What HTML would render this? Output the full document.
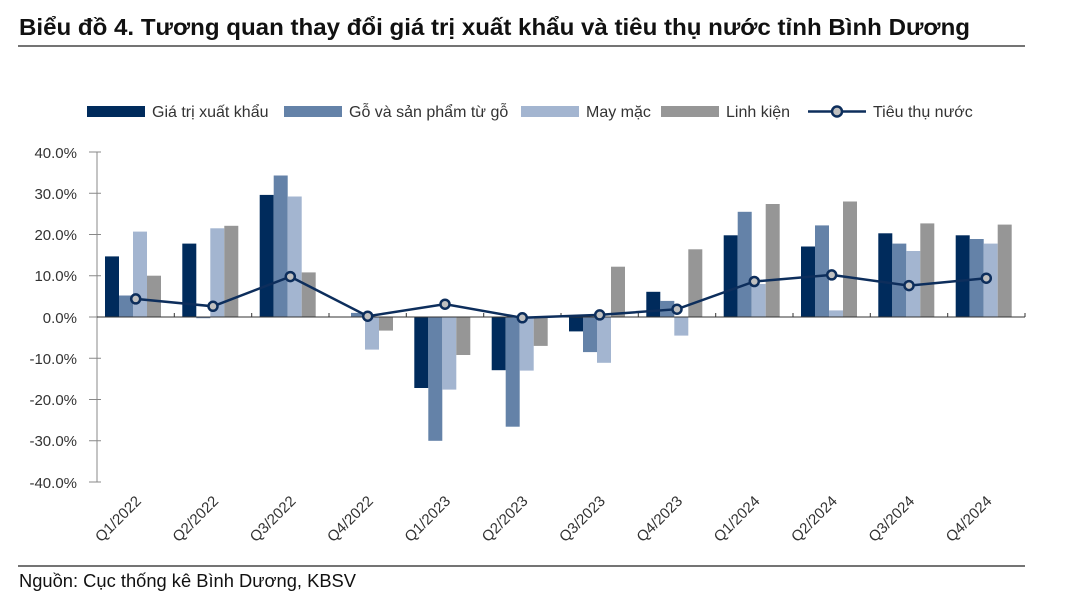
<!DOCTYPE html>
<html><head><meta charset="utf-8"><style>
body{margin:0;background:#fff;width:1067px;height:608px;overflow:hidden}
text{font-family:"Liberation Sans",sans-serif}
</style></head><body>
<svg width="1067" height="608" xmlns="http://www.w3.org/2000/svg">
<text x="19" y="35" font-size="23" font-weight="bold" fill="#111" textLength="951" lengthAdjust="spacingAndGlyphs">Biểu đồ 4. Tương quan thay đổi giá trị xuất khẩu và tiêu thụ nước tỉnh Bình Dương</text>
<line x1="18" y1="46" x2="1025" y2="46" stroke="#222" stroke-width="1.2"/>
<line x1="18" y1="566" x2="1025" y2="566" stroke="#222" stroke-width="1.2"/>
<text x="19" y="587" font-size="18" fill="#111" textLength="337" lengthAdjust="spacingAndGlyphs">Nguồn: Cục thống kê Bình Dương, KBSV</text>
<!-- legend -->
<g font-size="16" fill="#333">
<rect x="87" y="106" width="58" height="11" fill="#002b5c"/><text x="152" y="117">Giá trị xuất khẩu</text>
<rect x="284" y="106" width="58" height="11" fill="#6482a8"/><text x="349" y="117">Gỗ và sản phẩm từ gỗ</text>
<rect x="521" y="106" width="58" height="11" fill="#a3b5d0"/><text x="586" y="117">May mặc</text>
<rect x="661" y="106" width="58" height="11" fill="#969696"/><text x="726" y="117">Linh kiện</text>
<line x1="808" y1="111.5" x2="866" y2="111.5" stroke="#0d2e5c" stroke-width="2.5"/><circle cx="837" cy="111.5" r="5" fill="#c0c0c0" stroke="#0d2e5c" stroke-width="2.5"/><text x="873" y="117">Tiêu thụ nước</text>
</g>
<!-- y axis -->
<g stroke="#888" stroke-width="1">
<line x1="97" y1="152" x2="97" y2="482"/>
<line x1="89" y1="152" x2="101" y2="152"/><line x1="89" y1="193.25" x2="101" y2="193.25"/><line x1="89" y1="234.5" x2="101" y2="234.5"/><line x1="89" y1="275.75" x2="101" y2="275.75"/><line x1="89" y1="317" x2="101" y2="317"/><line x1="89" y1="358.25" x2="101" y2="358.25"/><line x1="89" y1="399.5" x2="101" y2="399.5"/><line x1="89" y1="440.75" x2="101" y2="440.75"/><line x1="89" y1="482" x2="101" y2="482"/>
</g>
<g font-size="15" fill="#333" text-anchor="end">
<text x="77" y="158">40.0%</text><text x="77" y="199">30.0%</text><text x="77" y="240">20.0%</text><text x="77" y="281">10.0%</text><text x="77" y="323">0.0%</text><text x="77" y="364">-10.0%</text><text x="77" y="405">-20.0%</text><text x="77" y="446">-30.0%</text><text x="77" y="488">-40.0%</text>
</g>
<!-- bars -->
<g fill="#002b5c">
<rect x="105" y="256.4" width="14" height="60.6"/><rect x="182.3" y="243.6" width="14" height="73.4"/><rect x="259.7" y="194.9" width="14" height="122.1"/><rect x="414.3" y="317" width="14" height="71"/><rect x="491.7" y="317" width="14" height="53.2"/><rect x="569" y="317" width="14" height="14.4"/><rect x="646.3" y="291.8" width="14" height="25.2"/><rect x="723.7" y="235.3" width="14" height="81.7"/><rect x="801" y="246.5" width="14" height="70.5"/><rect x="878.3" y="233.3" width="14" height="83.7"/><rect x="955.7" y="235.3" width="14" height="81.7"/>
</g>
<g fill="#6482a8">
<rect x="119" y="295.5" width="14" height="21.5"/><rect x="196.3" y="317" width="14" height="1.2"/><rect x="273.7" y="175.5" width="14" height="141.5"/><rect x="351" y="312.9" width="14" height="4.1"/><rect x="428.3" y="317" width="14" height="123.8"/><rect x="505.7" y="317" width="14" height="109.7"/><rect x="583" y="317" width="14" height="35.1"/><rect x="660.3" y="300.9" width="14" height="16.1"/><rect x="737.7" y="211.8" width="14" height="105.2"/><rect x="815" y="225.4" width="14" height="91.6"/><rect x="892.3" y="243.6" width="14" height="73.4"/><rect x="969.7" y="239" width="14" height="78"/>
</g>
<g fill="#a3b5d0">
<rect x="133" y="231.6" width="14" height="85.4"/><rect x="210.3" y="228.3" width="14" height="88.7"/><rect x="287.7" y="196.5" width="14" height="120.5"/><rect x="365" y="317" width="14" height="32.6"/><rect x="442.3" y="317" width="14" height="72.6"/><rect x="519.7" y="317" width="14" height="53.6"/><rect x="597" y="317" width="14" height="45.8"/><rect x="674.3" y="317" width="14" height="18.6"/><rect x="751.7" y="284" width="14" height="33"/><rect x="829" y="310.4" width="14" height="6.6"/><rect x="906.3" y="251" width="14" height="66"/><rect x="983.7" y="243.6" width="14" height="73.4"/>
</g>
<g fill="#969696">
<rect x="147" y="275.7" width="14" height="41.3"/><rect x="224.3" y="225.8" width="14" height="91.2"/><rect x="301.7" y="272.4" width="14" height="44.6"/><rect x="379" y="317" width="14" height="13.6"/><rect x="456.3" y="317" width="14" height="38"/><rect x="533.7" y="317" width="14" height="28.9"/><rect x="611" y="266.7" width="14" height="50.3"/><rect x="688.3" y="249.3" width="14" height="67.7"/><rect x="765.7" y="204" width="14" height="113"/><rect x="843" y="201.5" width="14" height="115.5"/><rect x="920.3" y="223.4" width="14" height="93.6"/><rect x="997.7" y="224.6" width="14" height="92.4"/>
</g>
<!-- x axis -->
<g stroke="#333" stroke-width="1">
<line x1="97" y1="317" x2="1025" y2="317"/>
<line x1="174.3" y1="313" x2="174.3" y2="317"/><line x1="251.7" y1="313" x2="251.7" y2="317"/><line x1="329" y1="313" x2="329" y2="317"/><line x1="406.3" y1="313" x2="406.3" y2="317"/><line x1="483.7" y1="313" x2="483.7" y2="317"/><line x1="561" y1="313" x2="561" y2="317"/><line x1="638.3" y1="313" x2="638.3" y2="317"/><line x1="715.7" y1="313" x2="715.7" y2="317"/><line x1="793" y1="313" x2="793" y2="317"/><line x1="870.3" y1="313" x2="870.3" y2="317"/><line x1="947.7" y1="313" x2="947.7" y2="317"/><line x1="1025" y1="313" x2="1025" y2="317"/>
</g>
<!-- line -->
<polyline fill="none" stroke="#0d2e5c" stroke-width="2.5" points="135.7,298.9 213,306.3 290.3,276.6 367.7,316.2 445,304.2 522.3,317.8 599.7,314.9 677,309.2 754.3,281.5 831.7,274.9 909,285.6 986.3,278.2"/>
<g fill="#c0c0c0" stroke="#0d2e5c" stroke-width="2.5">
<circle cx="135.7" cy="298.9" r="4.5"/><circle cx="213" cy="306.3" r="4.5"/><circle cx="290.3" cy="276.6" r="4.5"/><circle cx="367.7" cy="316.2" r="4.5"/><circle cx="445" cy="304.2" r="4.5"/><circle cx="522.3" cy="317.8" r="4.5"/><circle cx="599.7" cy="314.9" r="4.5"/><circle cx="677" cy="309.2" r="4.5"/><circle cx="754.3" cy="281.5" r="4.5"/><circle cx="831.7" cy="274.9" r="4.5"/><circle cx="909" cy="285.6" r="4.5"/><circle cx="986.3" cy="278.2" r="4.5"/>
</g>
<!-- x labels -->
<g font-size="15" fill="#333" text-anchor="end">
<text transform="translate(142,502) rotate(-45)">Q1/2022</text>
<text transform="translate(219.3,502) rotate(-45)">Q2/2022</text>
<text transform="translate(296.6,502) rotate(-45)">Q3/2022</text>
<text transform="translate(374,502) rotate(-45)">Q4/2022</text>
<text transform="translate(451.3,502) rotate(-45)">Q1/2023</text>
<text transform="translate(528.6,502) rotate(-45)">Q2/2023</text>
<text transform="translate(606,502) rotate(-45)">Q3/2023</text>
<text transform="translate(683.3,502) rotate(-45)">Q4/2023</text>
<text transform="translate(760.6,502) rotate(-45)">Q1/2024</text>
<text transform="translate(838,502) rotate(-45)">Q2/2024</text>
<text transform="translate(915.3,502) rotate(-45)">Q3/2024</text>
<text transform="translate(992.6,502) rotate(-45)">Q4/2024</text>
</g>
</svg>
</body></html>
